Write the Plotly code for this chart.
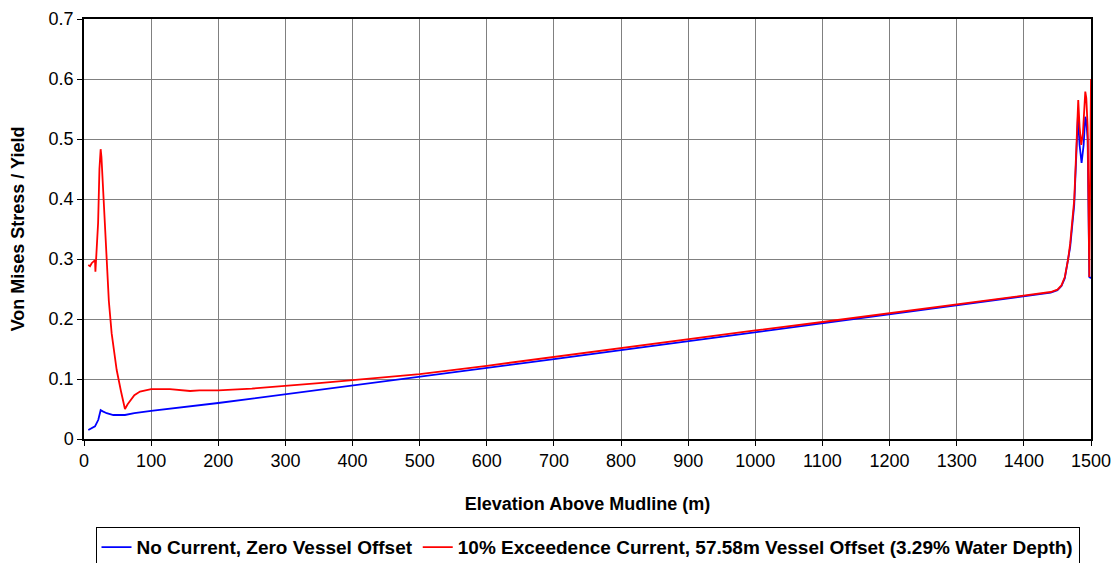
import plotly.graph_objects as go

# Data
elev_no_current = [6.4, 11, 16.4, 21.3, 24.8, 28, 33.8, 43.7, 61, 75, 100, 200, 300, 400, 500,
                   600, 700, 800, 900, 1000, 1100, 1200, 1300, 1400, 1440, 1450, 1456, 1461,
                   1466, 1469, 1475, 1478, 1480.5, 1483, 1486, 1489, 1491.5, 1493, 1495,
                   1497.5, 1500]
stress_no_current = [0.015, 0.018, 0.021, 0.032, 0.048, 0.046, 0.043, 0.040, 0.040, 0.043, 0.047,
                     0.060, 0.0745, 0.089, 0.103, 0.118, 0.133, 0.148, 0.163, 0.178, 0.193,
                     0.208, 0.223, 0.238, 0.244, 0.248, 0.255, 0.268, 0.30, 0.32, 0.39, 0.47,
                     0.537, 0.49, 0.46, 0.49, 0.537, 0.53, 0.50, 0.27, 0.268]

elev_current = [6.4, 9, 11.4, 14, 16.4, 17, 18.9, 21, 23, 24.8, 26, 27.8, 30, 33.8, 37, 41.2,
                45, 48.7, 55, 61, 65, 68.5, 75, 83.4, 100, 128, 158, 172, 200, 250, 300, 350,
                400, 450, 500, 600, 700, 800, 900, 1000, 1100, 1200, 1300, 1400, 1440, 1450,
                1456, 1461, 1466, 1469, 1475, 1478, 1480, 1481, 1483, 1485.5, 1488, 1490,
                1491.5, 1493, 1495, 1497.5, 1500]
stress_current = [0.290, 0.288, 0.293, 0.296, 0.298, 0.279, 0.320, 0.36, 0.45, 0.483, 0.47,
                  0.432, 0.37, 0.298, 0.23, 0.176, 0.14, 0.115, 0.08, 0.050, 0.058, 0.064,
                  0.073, 0.079, 0.083, 0.083, 0.080, 0.081, 0.081, 0.084, 0.088, 0.093, 0.098,
                  0.103, 0.108, 0.122, 0.137, 0.151, 0.166, 0.181, 0.195, 0.210, 0.224, 0.239,
                  0.245, 0.249, 0.256, 0.270, 0.30, 0.326, 0.398, 0.48, 0.560, 0.565, 0.52,
                  0.49, 0.51, 0.56, 0.579, 0.568, 0.52, 0.27, 0.60]

x_ticks = list(range(0, 1501, 100))
y_ticks = [0, 0.1, 0.2, 0.3, 0.4, 0.5, 0.6, 0.7]
y_tick_labels = ["0", "0.1", "0.2", "0.3", "0.4", "0.5", "0.6", "0.7"]

FONT = "Liberation Sans, Arial, sans-serif"

fig = go.Figure()
fig.add_trace(go.Scatter(x=elev_no_current, y=stress_no_current, mode="lines",
                         name="No Current, Zero Vessel Offset",
                         line=dict(color="#0000FF", width=1.8)))
fig.add_trace(go.Scatter(x=elev_current, y=stress_current, mode="lines",
                         name="10% Exceedence Current, 57.58m Vessel Offset (3.29% Water Depth)",
                         line=dict(color="#FF0000", width=1.8)))

fig.update_layout(
    width=1112, height=555,
    margin=dict(l=76, r=29, t=11, b=124, autoexpand=False),
    paper_bgcolor="white", plot_bgcolor="white",
    font=dict(family=FONT, color="black", size=18),
    showlegend=True,
    legend=dict(orientation="h", x=0.5, xanchor="center", y=-0.21, yanchor="top",
                bordercolor="black", borderwidth=1,
                font=dict(family=FONT, size=19, color="black", weight="bold"),
                itemwidth=30, tracegroupgap=0),
    xaxis=dict(range=[0, 1500], tickvals=x_ticks, ticks="outside", ticklen=5,
               tickcolor="black", showline=True, linecolor="black", linewidth=1.5,
               mirror=True, showgrid=True, gridcolor="#808080", gridwidth=1,
               zeroline=False, tickfont=dict(size=18), automargin=False,
               title=dict(text="<b>Elevation Above Mudline (m)</b>", font=dict(size=18),
                          standoff=27)),
    yaxis=dict(range=[0, 0.7], tickvals=y_ticks, ticktext=y_tick_labels, ticks="outside",
               ticklen=5, tickcolor="black", showline=True, linecolor="black",
               linewidth=1.5, mirror=True, showgrid=True, gridcolor="#808080",
               gridwidth=1, zeroline=False, tickfont=dict(size=18), automargin=False,
               title=dict(text="<b>Von Mises Stress / Yield</b>", font=dict(size=18),
                          standoff=21)),
)

fig.write_html("out.html")
